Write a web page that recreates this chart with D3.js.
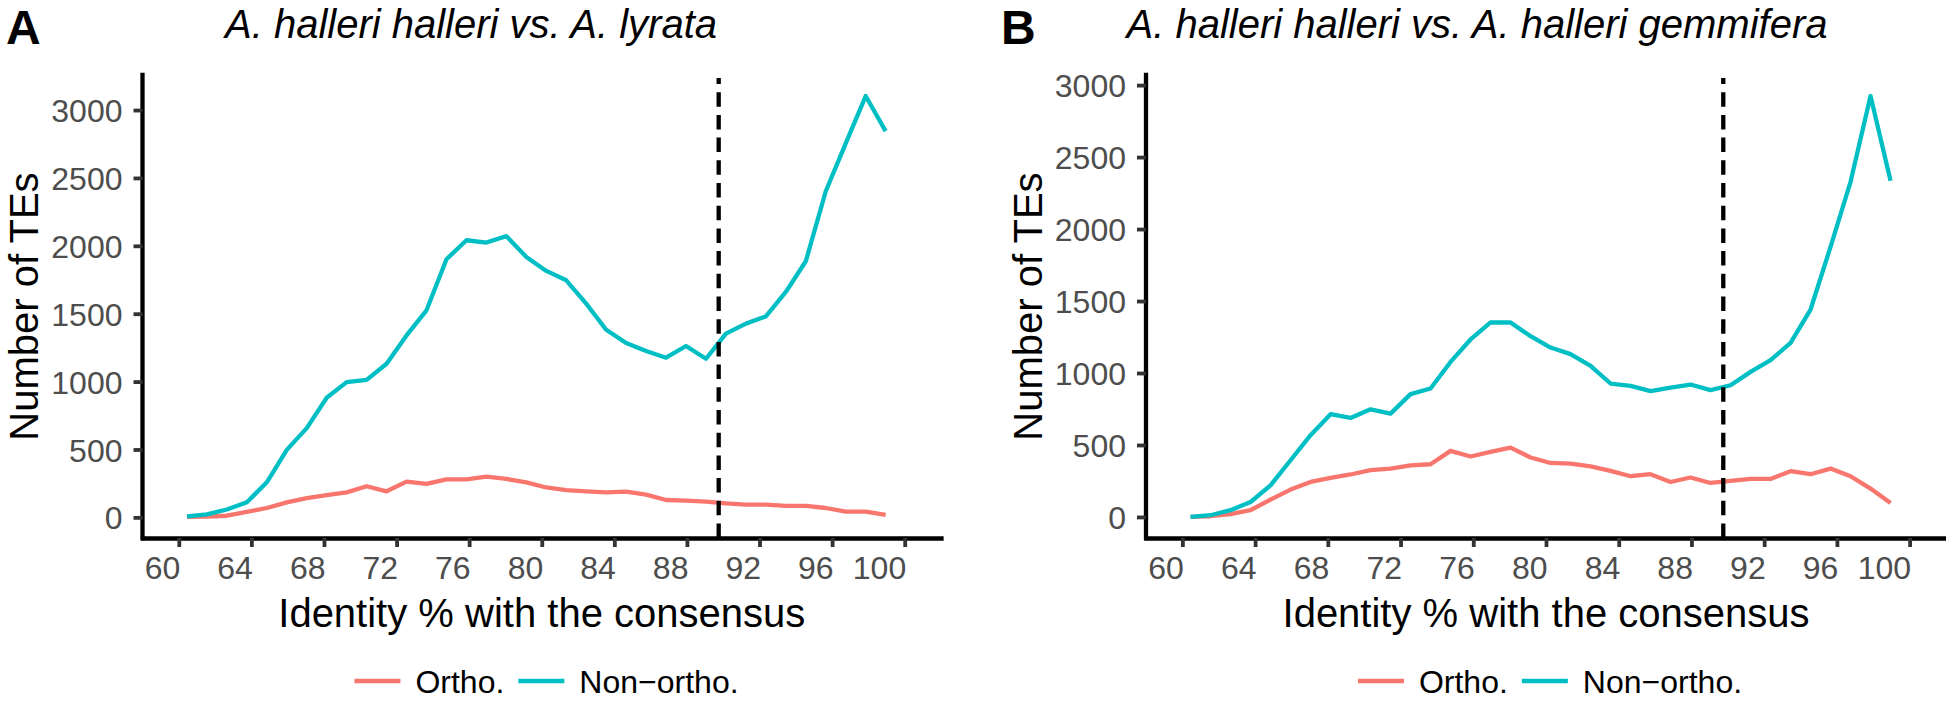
<!DOCTYPE html>
<html>
<head>
<meta charset="utf-8">
<script src="https://cdn.jsdelivr.net/npm/d3@7"></script>
<style>
  html, body { margin: 0; padding: 0; background: #ffffff; }
  svg { display: block; font-family: "Liberation Sans", Arial, Helvetica, sans-serif; }
</style>
</head>
<body>
<svg id="chart" width="1946" height="702"></svg>
<script>
// ---------------- data ----------------
const identity = [60.45, 61.55, 62.65, 63.75, 64.85, 65.95, 67.05, 68.15, 69.25, 70.35,
                  71.45, 72.55, 73.65, 74.75, 75.85, 76.95, 78.05, 79.15, 80.25, 81.35,
                  82.45, 83.55, 84.65, 85.75, 86.85, 87.95, 89.05, 90.15, 91.25, 92.35,
                  93.45, 94.55, 95.65, 96.75, 97.85, 98.95];

const orthoA = [3, 5, 12, 40, 69, 110, 142, 163, 184, 229, 192, 263, 246, 280, 280, 300, 283, 258,
                220, 200, 192, 184, 190, 167, 128, 123, 116, 103, 94, 94, 84, 84, 69, 42, 42, 18];
const nonOrthoA = [8, 22, 58, 111, 258, 497, 657, 881, 996, 1013, 1131, 1340, 1525, 1901, 2041, 2024, 2071, 1918,
                   1815, 1746, 1574, 1382, 1284, 1225, 1176, 1262, 1168, 1353, 1427, 1480, 1660, 1886, 2402, 2754, 3103, 2845];

const orthoB = [0, 5, 19, 47, 121, 190, 243, 271, 295, 325, 336, 359, 366, 459, 420, 452, 482, 413,
                375, 371, 352, 320, 283, 297, 243, 274, 236, 250, 264, 264, 318, 297, 336, 283, 197, 97];
const nonOrthoB = [0, 12, 47, 104, 220, 394, 568, 714, 688, 748, 718, 853, 892, 1077, 1233, 1351, 1351, 1256,
                   1177, 1131, 1050, 927, 911, 874, 899, 920, 881, 915, 1008, 1089, 1209, 1441, 1876, 2328, 2924, 2335];

const xTicks = [60, 64, 68, 72, 76, 80, 84, 88, 92, 96, 100];
const yTicks = [0, 500, 1000, 1500, 2000, 2500, 3000];
const xDomain = [58, 102];
const threshold = 89.75;

const seriesNames = ["Ortho.", "Non\u2212ortho."];
const seriesColors = ["#F8766D", "#00BFC4"];
const panelTags = ["A", "B"];
const panelTitles = ["A. halleri halleri vs. A. lyrata", "A. halleri halleri vs. A. halleri gemmifera"];
const xTitle = "Identity % with the consensus";
const yTitle = "Number of TEs";

// ---------------- layout ----------------
const layouts = [
  { left: 142.5, right: 941, tagX: 6, titleX: 471, yTitleX: 38 },
  { left: 1146, right: 1946, tagX: 1001, titleX: 1477, yTitleX: 1042 }
];
const plotTop = 75, plotBottom = 538;

const svg = d3.select("#chart");
svg.append("rect").attr("width", 1946).attr("height", 702).attr("fill", "#ffffff");

const panelsData = [
  { series: [orthoA, nonOrthoA] },
  { series: [orthoB, nonOrthoB] }
];

panelsData.forEach((pd, i) => {
  const L = layouts[i];
  const g = svg.append("g");

  const x = d3.scaleLinear().domain(xDomain).range([L.left, L.right]);
  const all = pd.series[0].concat(pd.series[1]);
  const ext = d3.extent(all);
  const pad = 0.05 * (ext[1] - ext[0]);
  const y = d3.scaleLinear().domain([ext[0] - pad, ext[1] + pad]).range([plotBottom, plotTop]);

  // lines
  const line = d3.line().x((d, k) => x(identity[k])).y(d => y(d));
  pd.series.forEach((s, si) => {
    g.append("path")
      .datum(s)
      .attr("d", line)
      .attr("fill", "none")
      .attr("stroke", seriesColors[si])
      .attr("stroke-width", 4.3)
      .attr("stroke-linejoin", "round");
  });

  // threshold line
  g.append("line")
    .attr("x1", x(threshold)).attr("x2", x(threshold))
    .attr("y1", plotBottom).attr("y2", plotTop + 3)
    .attr("stroke", "#000").attr("stroke-width", 4.3)
    .attr("stroke-dasharray", "14.5,8.2");

  // x axis
  const xAxis = g.append("g")
    .attr("transform", `translate(0,${plotBottom})`)
    .call(d3.axisBottom(x).tickValues(xTicks).tickSize(9).tickSizeOuter(0).tickPadding(9.5).tickFormat(d3.format("d")));
  xAxis.select(".domain").attr("stroke", "#000").attr("stroke-width", 4.3).attr("stroke-linecap", "square");
  xAxis.selectAll(".tick line").attr("stroke", "#333333").attr("stroke-width", 3.8);
  xAxis.selectAll(".tick text")
    .attr("fill", "#4D4D4D").attr("font-size", 32)
    .attr("font-family", "Liberation Sans, Arial, sans-serif")
    .attr("text-anchor", "end").attr("x", 1);

  // y axis
  const yAxis = g.append("g")
    .attr("transform", `translate(${L.left},0)`)
    .call(d3.axisLeft(y).tickValues(yTicks).tickSize(9).tickSizeOuter(0).tickPadding(11).tickFormat(d3.format("d")));
  yAxis.select(".domain").attr("stroke", "#000").attr("stroke-width", 4.3).attr("stroke-linecap", "square")
    .attr("d", `M0,${plotBottom}V${plotTop}`);
  yAxis.selectAll(".tick line").attr("stroke", "#333333").attr("stroke-width", 3.8);
  yAxis.selectAll(".tick text")
    .attr("fill", "#4D4D4D").attr("font-size", 32)
    .attr("font-family", "Liberation Sans, Arial, sans-serif")
    .attr("dy", "0.36em");

  // axis titles
  g.append("text")
    .attr("x", (L.left + L.right) / 2).attr("y", 627)
    .attr("text-anchor", "middle").attr("font-size", 40).attr("fill", "#000")
    .text(xTitle);
  g.append("text")
    .attr("transform", `translate(${L.yTitleX},${(plotTop + plotBottom) / 2}) rotate(-90)`)
    .attr("text-anchor", "middle").attr("font-size", 40).attr("fill", "#000")
    .text(yTitle);

  // title & tag
  g.append("text")
    .attr("x", L.titleX).attr("y", 38)
    .attr("text-anchor", "middle").attr("font-size", 40).attr("font-style", "italic").attr("fill", "#000")
    .text(panelTitles[i]);
  g.append("text")
    .attr("x", L.tagX).attr("y", 44)
    .attr("font-size", 48).attr("font-weight", "bold").attr("fill", "#000")
    .text(panelTags[i]);

  // legend
  const leg = g.append("g");
  let cx = 0;
  seriesNames.forEach((name, si) => {
    leg.append("line")
      .attr("x1", cx).attr("x2", cx + 46)
      .attr("y1", 0).attr("y2", 0)
      .attr("stroke", seriesColors[si]).attr("stroke-width", 4.3);
    const t = leg.append("text")
      .attr("x", cx + 61).attr("y", 0).attr("dy", "0.36em")
      .attr("font-size", 32).attr("fill", "#000")
      .text(name);
    cx += 61 + t.node().getComputedTextLength() + 14;
  });
  const legW = cx - 14;
  const legCenter = L.left + 404;
  leg.attr("transform", `translate(${legCenter - legW / 2},681)`);
});
</script>
</body>
</html>
